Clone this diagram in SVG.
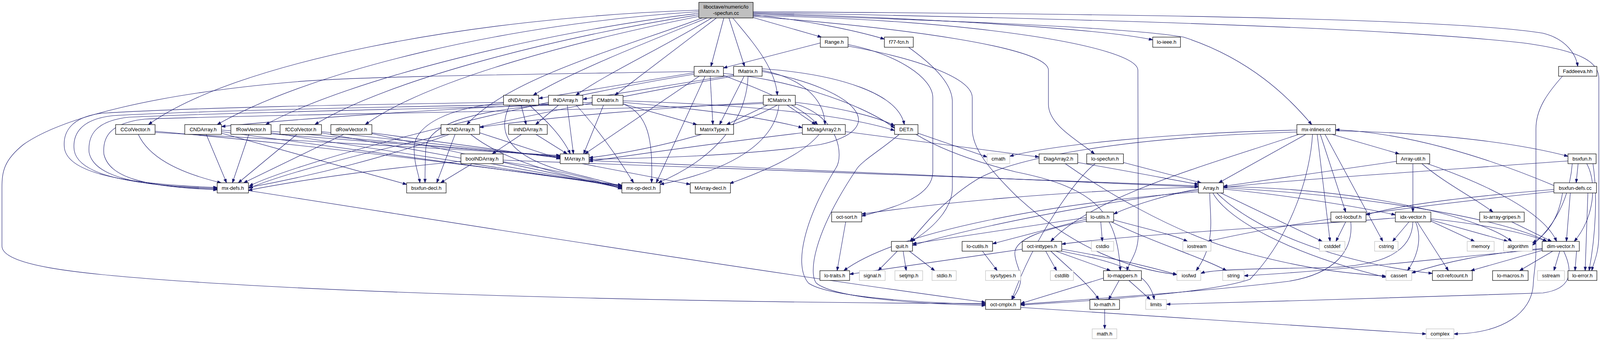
<svg xmlns="http://www.w3.org/2000/svg" width="4486" height="873" viewBox="0 0 4486 873">
<defs>
<marker id="a" markerUnits="userSpaceOnUse" markerWidth="11" markerHeight="8" refX="10" refY="3.5" orient="auto"><path d="M0,0 L10,3.5 L0,7 z" fill="#191970" stroke="#191970" stroke-width="1"/></marker>
</defs>
<style>
.e path{fill:none;stroke:#191970;stroke-width:1.1;marker-end:url(#a)}
.n rect{fill:#fff;stroke:#000;stroke-width:1.2}
.g rect{fill:#fff;stroke:#bfbfbf;stroke-width:1.2}
.t rect{fill:#bfbfbf;stroke:#000;stroke-width:1.2}
text{font-family:"Liberation Sans",Arial,Helvetica,sans-serif;font-size:13px;text-anchor:middle;fill:#000}
</style>
<rect width="4486" height="873" fill="#fff"/>
<g id="edges" class="e">
<path d="M1925,44 L2103,95"/>
<path d="M1928,38 C2050,50 2180,75 2264,100"/>
<path d="M1928,34 C2300,44 2800,70 2951,102"/>
<path d="M1853,46 L1820,170"/>
<path d="M1866,46 L1906,170"/>
<path d="M1876,46 C1920,100 1985,170 1990,244"/>
<path d="M1834,46 L1574,244"/>
<path d="M1822,46 C1700,120 1550,190 1474,244"/>
<path d="M1810,46 C1650,110 1450,190 1365,244"/>
<path d="M1798,46 C1600,120 1300,200 1195,319"/>
<path d="M1789,42 C1500,100 1100,200 935,319"/>
<path d="M1789,38 C1450,90 1000,200 806,319"/>
<path d="M1789,34 C1400,80 900,200 680,319"/>
<path d="M1789,30 C1300,60 800,180 556,319"/>
<path d="M1789,26 C1200,45 600,160 380,319"/>
<path d="M1928,42 C2300,70 2684,120 2684,180 L2684,267 C2684,320 2760,360 2802,394"/>
<path d="M1928,40 C2500,50 2913,120 2913,180 L2914,600 C2914,650 2890,670 2885,693"/>
<path d="M1928,36 C2500,55 2900,72 3030,95 C3200,150 3300,250 3358,319"/>
<path d="M1928,30 C2800,35 3700,45 3950,85 C4010,100 4035,140 4039,170"/>
<path d="M1928,32 C2600,45 3500,65 3900,110 C4050,130 4093,160 4093,200 L4093,600 C4093,650 4080,670 4075,693"/>
<path d="M2100,110 L1852,174"/>
<path d="M2171,114 C2300,140 2388,200 2388,250 L2388,440 C2388,500 2300,530 2206,553"/>
<path d="M2171,118 C2350,150 2489,200 2489,250 L2489,330 C2489,380 2530,430 2600,500 C2750,640 2900,690 3013,703"/>
<path d="M2326,121 C2380,160 2438,210 2438,260 L2438,480 C2438,540 2380,590 2333,618"/>
<path d="M1777,183 C1400,190 900,195 750,210 C400,240 160,300 60,370 C10,410 5,440 5,480 L5,630 C5,680 200,700 400,715 C1000,760 2000,776 2523,777"/>
<path d="M1777,190 C1400,250 800,400 638,476"/>
<path d="M1777,186 L1379,252"/>
<path d="M1805,195 L1680,468"/>
<path d="M1790,195 L1497,394"/>
<path d="M1818,195 L1825,319"/>
<path d="M1852,193 C1950,230 2050,270 2093,319"/>
<path d="M1852,188 C2000,200 2200,260 2290,328"/>
<path d="M1878,192 L1492,254"/>
<path d="M1878,195 C1500,260 800,410 638,482"/>
<path d="M1915,195 C1910,330 1800,420 1685,468"/>
<path d="M1951,183 C2200,230 2280,330 2100,370 C1900,400 1650,405 1508,408"/>
<path d="M1905,195 L1842,319"/>
<path d="M1951,180 C2050,200 2110,250 2112,319"/>
<path d="M1951,176 C2150,190 2300,240 2315,319"/>
<path d="M1516,267 C1100,278 600,288 330,300 C240,310 225,350 228,390 C240,450 340,476 556,484"/>
<path d="M1516,262 C1200,275 800,300 567,324"/>
<path d="M1545,269 L1494,394"/>
<path d="M1595,266 C1660,290 1672,360 1668,468"/>
<path d="M1595,266 L1784,319"/>
<path d="M1595,262 C1800,280 1950,300 2054,327"/>
<path d="M1595,258 C1900,268 2150,290 2290,334"/>
<path d="M1954,265 C1500,285 700,292 370,305 C280,315 262,352 266,395 C280,452 360,478 556,486"/>
<path d="M1954,262 C1700,275 1400,300 1228,326"/>
<path d="M1990,269 C1900,320 1700,380 1508,404"/>
<path d="M1994,269 C1985,350 1900,430 1690,472"/>
<path d="M1965,269 L1860,319"/>
<path d="M2015,269 L2088,319"/>
<path d="M2036,262 C2150,275 2250,300 2290,322"/>
<path d="M2036,266 C2150,300 2160,400 2140,430 C2060,560 2030,680 2070,725 C2120,760 2350,775 2523,779"/>
<path d="M1289,262 C900,268 500,275 260,290 C180,300 160,340 165,380 C175,440 300,470 556,480"/>
<path d="M1334,269 L1347,319"/>
<path d="M1355,269 C1400,310 1440,350 1460,394"/>
<path d="M1305,269 C1270,340 1300,400 1450,440 C1520,458 1570,470 1592,478"/>
<path d="M1289,264 C1150,275 1060,320 1060,380 C1060,420 1072,445 1075,468"/>
<path d="M1404,266 C1000,274 550,282 290,296 C205,305 185,345 190,385 C200,445 320,474 556,482"/>
<path d="M1430,269 L1371,319"/>
<path d="M1452,269 L1468,394"/>
<path d="M1475,269 C1530,330 1580,400 1622,468"/>
<path d="M1404,268 C1200,285 1095,320 1090,380 C1088,420 1088,450 1088,468"/>
<path d="M1335,344 L1260,394"/>
<path d="M1372,344 L1452,394"/>
<path d="M1180,413 C1000,430 800,455 636,487"/>
<path d="M1209,419 L1128,468"/>
<path d="M1288,414 C1400,430 1500,452 1592,484"/>
<path d="M1288,410 L3068,476"/>
<path d="M1508,411 L3068,479"/>
<path d="M1490,419 L1767,472"/>
<path d="M354,344 C380,400 450,440 566,468"/>
<path d="M397,339 L1434,398"/>
<path d="M397,336 C900,380 1400,450 1592,474"/>
<path d="M528,344 L580,468"/>
<path d="M567,333 L1434,400"/>
<path d="M567,337 L1592,476"/>
<path d="M567,341 L1041,472"/>
<path d="M637,344 L595,468"/>
<path d="M694,336 L1434,402"/>
<path d="M694,340 L1592,478"/>
<path d="M760,344 L610,468"/>
<path d="M823,337 L1434,403"/>
<path d="M823,340 L1592,480"/>
<path d="M880,344 L624,468"/>
<path d="M952,340 L1434,405"/>
<path d="M952,342 L1592,482"/>
<path d="M1150,344 C1000,400 800,450 636,480"/>
<path d="M1228,340 L1434,407"/>
<path d="M1205,344 C1300,420 1480,460 1592,476"/>
<path d="M1165,344 L1118,468"/>
<path d="M2054,340 C1800,370 1600,400 1508,413"/>
<path d="M2097,344 C2050,400 1950,440 1868,470"/>
<path d="M2164,337 L2660,402"/>
<path d="M2350,341 L2527,402"/>
<path d="M2345,344 C2420,390 2520,420 2600,440 C2800,480 2860,540 2868,693"/>
<path d="M2302,344 C2260,380 2210,410 2195,430 C2080,600 2070,700 2090,725 C2140,765 2360,778 2523,782"/>
<path d="M2759,416 C2900,440 3000,460 3068,472"/>
<path d="M2727,419 C2800,470 3000,600 3200,650 C3350,690 3450,700 3548,707"/>
<path d="M2804,419 C2760,450 2650,600 2590,767"/>
<path d="M2876,416 L3075,468"/>
<path d="M3343,344 L3120,468"/>
<path d="M3410,344 L3582,394"/>
<path d="M3320,333 C3000,340 2700,370 2585,400"/>
<path d="M3320,338 C2900,350 2600,400 2500,460 C2420,510 2370,570 2330,618"/>
<path d="M3325,344 C3100,420 2800,500 2690,618"/>
<path d="M3360,344 C3355,440 3310,600 3200,715 C3100,750 2800,770 2613,781"/>
<path d="M3372,344 L3405,618"/>
<path d="M3380,344 L3445,543"/>
<path d="M3392,344 L3540,618"/>
<path d="M3419,335 C3700,340 3900,370 4014,400"/>
<path d="M3978,475 C3800,400 3600,340 3419,332"/>
<path d="M3978,485 C3800,500 3600,520 3497,550"/>
<path d="M3978,490 C3600,530 3300,570 3092,618"/>
<path d="M4020,494 L4010,618"/>
<path d="M4000,494 C3990,560 3960,600 3923,622"/>
<path d="M4065,494 L4058,693"/>
<path d="M4040,419 L4035,468"/>
<path d="M4014,412 C3700,435 3300,460 3132,480"/>
<path d="M4062,419 C4090,470 4080,560 4030,618"/>
<path d="M4025,419 C4020,480 4000,560 3923,628"/>
<path d="M4078,419 C4090,500 4085,600 4068,693"/>
<path d="M3575,413 L3132,477"/>
<path d="M3617,419 L3617,543"/>
<path d="M3640,419 C3700,470 3780,510 3822,543"/>
<path d="M3654,419 C3800,470 3950,540 3985,618"/>
<path d="M3097,494 C3097,557 3114,623 3062,693"/>
<path d="M3105,494 C3140,560 3300,650 3548,710"/>
<path d="M3115,494 C3200,580 3400,670 3667,700"/>
<path d="M3125,494 L3385,618"/>
<path d="M3132,484 C3300,500 3480,530 3572,550"/>
<path d="M3132,481 C3500,500 3850,560 3960,618"/>
<path d="M3132,478 C3500,482 3800,560 3870,618"/>
<path d="M3068,484 C3000,495 2900,525 2851,548"/>
<path d="M3068,487 C2800,520 2500,580 2336,628"/>
<path d="M3068,479 C2700,490 2400,520 2206,548"/>
<path d="M3068,491 C2700,520 2300,590 2160,693"/>
<path d="M3572,558 C3300,580 2900,600 2718,625"/>
<path d="M3607,568 L3565,618"/>
<path d="M3624,568 C3645,620 3620,670 3603,693"/>
<path d="M3628,568 L3708,693"/>
<path d="M3617,568 C3615,640 3550,680 3400,685 C3200,688 3100,690 3074,700"/>
<path d="M3663,560 C3800,575 3900,595 3960,618"/>
<path d="M3663,566 L3775,618"/>
<path d="M3663,563 L3860,618"/>
<path d="M3870,568 L3972,618"/>
<path d="M3975,643 L3890,693"/>
<path d="M3993,643 L3978,693"/>
<path d="M4036,643 L4032,693"/>
<path d="M3948,641 L3765,693"/>
<path d="M3948,636 C3800,650 3700,670 3614,699"/>
<path d="M3948,638 C3700,660 3400,695 3185,706"/>
<path d="M4003,643 C4030,700 4020,740 3950,750 C3700,760 3300,770 2986,779"/>
<path d="M2781,557 L2336,624"/>
<path d="M2781,561 L2541,624"/>
<path d="M2781,566 C2680,585 2595,610 2598,650 C2600,690 2635,710 2590,767"/>
<path d="M2818,568 L2822,618"/>
<path d="M2851,563 C2950,590 3000,600 3040,618"/>
<path d="M2845,568 C2950,620 3080,660 3140,693"/>
<path d="M2515,643 L2553,693"/>
<path d="M2297,643 L2248,693"/>
<path d="M2312,643 L2320,693"/>
<path d="M2328,643 L2393,693"/>
<path d="M2617,638 L2175,702"/>
<path d="M2677,643 L2705,693"/>
<path d="M2690,643 C2740,690 2790,730 2813,767"/>
<path d="M2703,643 L2843,693"/>
<path d="M2718,638 C2850,660 2950,685 3013,703"/>
<path d="M2718,643 C2850,670 2940,690 2955,767"/>
<path d="M2825,712 L2613,777"/>
<path d="M2865,718 L2838,767"/>
<path d="M2890,718 L2945,767"/>
<path d="M2828,792 L2828,842"/>
<path d="M2613,787 L3651,855"/>
<path d="M4000,195 C3960,240 3932,280 3932,330 L3932,640 C3932,680 3926,700 3925,730 C3920,800 3850,853 3722,855"/>
<path d="M2165,568 L2143,693"/>
<path d="M3445,568 L3420,618"/>
<path d="M3458,568 C3465,640 3420,700 3300,720 C3100,745 2800,765 2613,779"/>
<path d="M636,488 C1100,560 1900,690 2523,774"/>
</g>
<g id="n_title" class="t"><rect x="1789" y="6" width="139" height="40"/><text x="1858.5" y="22">liboctave/numeric/lo</text><text x="1858.5" y="38">-specfun.cc</text></g>
<g id="n_Range" class="n"><rect x="2100" y="95" width="71" height="26"/><text x="2135.5" y="112">Range.h</text></g>
<g id="n_f77fcn" class="n"><rect x="2264" y="95" width="74" height="26"/><text x="2301" y="112">f77-fcn.h</text></g>
<g id="n_loieee" class="n"><rect x="2951" y="95" width="71" height="26"/><text x="2986.5" y="112">lo-ieee.h</text></g>
<g id="n_dMatrix" class="n"><rect x="1777" y="170" width="75" height="25"/><text x="1814.5" y="187">dMatrix.h</text></g>
<g id="n_fMatrix" class="n"><rect x="1878" y="170" width="73" height="25"/><text x="1914.5" y="187">fMatrix.h</text></g>
<g id="n_Faddeeva" class="n"><rect x="3990" y="170" width="98" height="25"/><text x="4039" y="187">Faddeeva.hh</text></g>
<g id="n_dNDArray" class="n"><rect x="1289" y="244" width="90" height="25"/><text x="1334" y="261">dNDArray.h</text></g>
<g id="n_fNDArray" class="n"><rect x="1404" y="244" width="88" height="25"/><text x="1448" y="261">fNDArray.h</text></g>
<g id="n_CMatrix" class="n"><rect x="1516" y="244" width="79" height="25"/><text x="1555.5" y="261">CMatrix.h</text></g>
<g id="n_fCMatrix" class="n"><rect x="1954" y="244" width="82" height="25"/><text x="1995" y="261">fCMatrix.h</text></g>
<g id="n_CColVector" class="n"><rect x="296" y="319" width="101" height="25"/><text x="346.5" y="336">CColVector.h</text></g>
<g id="n_CNDArray" class="n"><rect x="473" y="319" width="94" height="25"/><text x="520" y="336">CNDArray.h</text></g>
<g id="n_fRowVector" class="n"><rect x="591" y="319" width="103" height="25"/><text x="642.5" y="336">fRowVector.h</text></g>
<g id="n_fCColVector" class="n"><rect x="717" y="319" width="106" height="25"/><text x="770" y="336">fCColVector.h</text></g>
<g id="n_dRowVector" class="n"><rect x="847" y="319" width="105" height="25"/><text x="899.5" y="336">dRowVector.h</text></g>
<g id="n_fCNDArray" class="n"><rect x="1129" y="319" width="99" height="25"/><text x="1178.5" y="336">fCNDArray.h</text></g>
<g id="n_intNDArray" class="n"><rect x="1302" y="319" width="99" height="25"/><text x="1351.5" y="336">intNDArray.h</text></g>
<g id="n_MatrixType" class="n"><rect x="1780" y="319" width="98" height="25"/><text x="1829" y="336">MatrixType.h</text></g>
<g id="n_MDiagArray2" class="n"><rect x="2054" y="319" width="110" height="25"/><text x="2109" y="336">MDiagArray2.h</text></g>
<g id="n_DET" class="n"><rect x="2290" y="319" width="60" height="25"/><text x="2320" y="336">DET.h</text></g>
<g id="n_mxinlines" class="n"><rect x="3320" y="319" width="99" height="25"/><text x="3369.5" y="336">mx-inlines.cc</text></g>
<g id="n_boolNDArray" class="n"><rect x="1180" y="394" width="108" height="25"/><text x="1234" y="411">boolNDArray.h</text></g>
<g id="n_MArray" class="n"><rect x="1434" y="394" width="74" height="25"/><text x="1471" y="411">MArray.h</text></g>
<g id="n_cmath" class="g"><rect x="2527" y="394" width="58" height="25"/><text x="2556" y="411">cmath</text></g>
<g id="n_DiagArray2" class="n"><rect x="2660" y="394" width="99" height="25"/><text x="2709.5" y="411">DiagArray2.h</text></g>
<g id="n_lospecfun" class="n"><rect x="2782" y="394" width="94" height="25"/><text x="2829" y="411">lo-specfun.h</text></g>
<g id="n_ArrayUtil" class="n"><rect x="3575" y="394" width="85" height="25"/><text x="3617.5" y="411">Array-util.h</text></g>
<g id="n_bsxfun" class="n"><rect x="4014" y="394" width="72" height="25"/><text x="4050" y="411">bsxfun.h</text></g>
<g id="n_mxdefs" class="n"><rect x="556" y="468" width="80" height="26"/><text x="596" y="486">mx-defs.h</text></g>
<g id="n_bsxfundecl" class="n"><rect x="1041" y="468" width="101" height="26"/><text x="1091.5" y="486">bsxfun-decl.h</text></g>
<g id="n_mxopdecl" class="n"><rect x="1592" y="468" width="98" height="26"/><text x="1641" y="486">mx-op-decl.h</text></g>
<g id="n_MArraydecl" class="n"><rect x="1767" y="468" width="103" height="26"/><text x="1818.5" y="486">MArray-decl.h</text></g>
<g id="n_Array" class="n"><rect x="3068" y="468" width="64" height="26"/><text x="3100" y="486">Array.h</text></g>
<g id="n_bsxfundefs" class="n"><rect x="3978" y="468" width="109" height="26"/><text x="4032.5" y="486">bsxfun-defs.cc</text></g>
<g id="n_octsort" class="n"><rect x="2129" y="543" width="77" height="25"/><text x="2167.5" y="560">oct-sort.h</text></g>
<g id="n_loutils" class="n"><rect x="2781" y="543" width="70" height="25"/><text x="2816" y="560">lo-utils.h</text></g>
<g id="n_octlocbuf" class="n"><rect x="3407" y="543" width="90" height="25"/><text x="3452" y="560">oct-locbuf.h</text></g>
<g id="n_idxvector" class="n"><rect x="3572" y="543" width="91" height="25"/><text x="3617.5" y="560">idx-vector.h</text></g>
<g id="n_loarraygripes" class="n"><rect x="3788" y="543" width="114" height="25"/><text x="3845" y="560">lo-array-gripes.h</text></g>
<g id="n_quit" class="n"><rect x="2282" y="618" width="54" height="25"/><text x="2309" y="635">quit.h</text></g>
<g id="n_locutils" class="n"><rect x="2463" y="618" width="78" height="25"/><text x="2502" y="635">lo-cutils.h</text></g>
<g id="n_octinttypes" class="n"><rect x="2617" y="618" width="101" height="25"/><text x="2667.5" y="635">oct-inttypes.h</text></g>
<g id="n_cstdio" class="g"><rect x="2794" y="618" width="57" height="25"/><text x="2822.5" y="635">cstdio</text></g>
<g id="n_iostream" class="g"><rect x="3028" y="618" width="72" height="25"/><text x="3064" y="635">iostream</text></g>
<g id="n_cstddef" class="g"><rect x="3378" y="618" width="65" height="25"/><text x="3410.5" y="635">cstddef</text></g>
<g id="n_cstring" class="g"><rect x="3519" y="618" width="60" height="25"/><text x="3549" y="635">cstring</text></g>
<g id="n_memory" class="g"><rect x="3756" y="618" width="69" height="25"/><text x="3790.5" y="635">memory</text></g>
<g id="n_algorithm" class="g"><rect x="3849" y="618" width="74" height="25"/><text x="3886" y="635">algorithm</text></g>
<g id="n_dimvector" class="n"><rect x="3948" y="618" width="95" height="25"/><text x="3995.5" y="635">dim-vector.h</text></g>
<g id="n_lotraits" class="n"><rect x="2099" y="693" width="76" height="25"/><text x="2137" y="710">lo-traits.h</text></g>
<g id="n_signal" class="g"><rect x="2200" y="693" width="66" height="25"/><text x="2233" y="710">signal.h</text></g>
<g id="n_setjmp" class="g"><rect x="2291" y="693" width="71" height="25"/><text x="2326.5" y="710">setjmp.h</text></g>
<g id="n_stdio" class="g"><rect x="2386" y="693" width="62" height="25"/><text x="2417" y="710">stdio.h</text></g>
<g id="n_systypes" class="g"><rect x="2523" y="693" width="90" height="25"/><text x="2568" y="710">sys/types.h</text></g>
<g id="n_cstdlib" class="g"><rect x="2689" y="693" width="59" height="25"/><text x="2718.5" y="710">cstdlib</text></g>
<g id="n_lomappers" class="n"><rect x="2825" y="693" width="97" height="25"/><text x="2873.5" y="710">lo-mappers.h</text></g>
<g id="n_iosfwd" class="g"><rect x="3013" y="693" width="61" height="25"/><text x="3043.5" y="710">iosfwd</text></g>
<g id="n_string" class="g"><rect x="3130" y="693" width="55" height="25"/><text x="3157.5" y="710">string</text></g>
<g id="n_cassert" class="g"><rect x="3548" y="693" width="66" height="25"/><text x="3581" y="710">cassert</text></g>
<g id="n_octrefcount" class="n"><rect x="3667" y="693" width="102" height="25"/><text x="3718" y="710">oct-refcount.h</text></g>
<g id="n_lomacros" class="n"><rect x="3821" y="693" width="91" height="25"/><text x="3866.5" y="710">lo-macros.h</text></g>
<g id="n_sstream" class="g"><rect x="3936" y="693" width="69" height="25"/><text x="3970.5" y="710">sstream</text></g>
<g id="n_loerror" class="n"><rect x="4014" y="693" width="74" height="25"/><text x="4051" y="710">lo-error.h</text></g>
<g id="n_octcmplx" class="n"><rect x="2523" y="767" width="90" height="25"/><text x="2568" y="784">oct-cmplx.h</text></g>
<g id="n_lomath" class="n"><rect x="2790" y="767" width="76" height="25"/><text x="2828" y="784">lo-math.h</text></g>
<g id="n_limits" class="g"><rect x="2933" y="767" width="53" height="25"/><text x="2959.5" y="784">limits</text></g>
<g id="n_mathh" class="g"><rect x="2796" y="842" width="63" height="25"/><text x="2827.5" y="859">math.h</text></g>
<g id="n_complex" class="g"><rect x="3651" y="842" width="71" height="25"/><text x="3686.5" y="859">complex</text></g>
</svg>
